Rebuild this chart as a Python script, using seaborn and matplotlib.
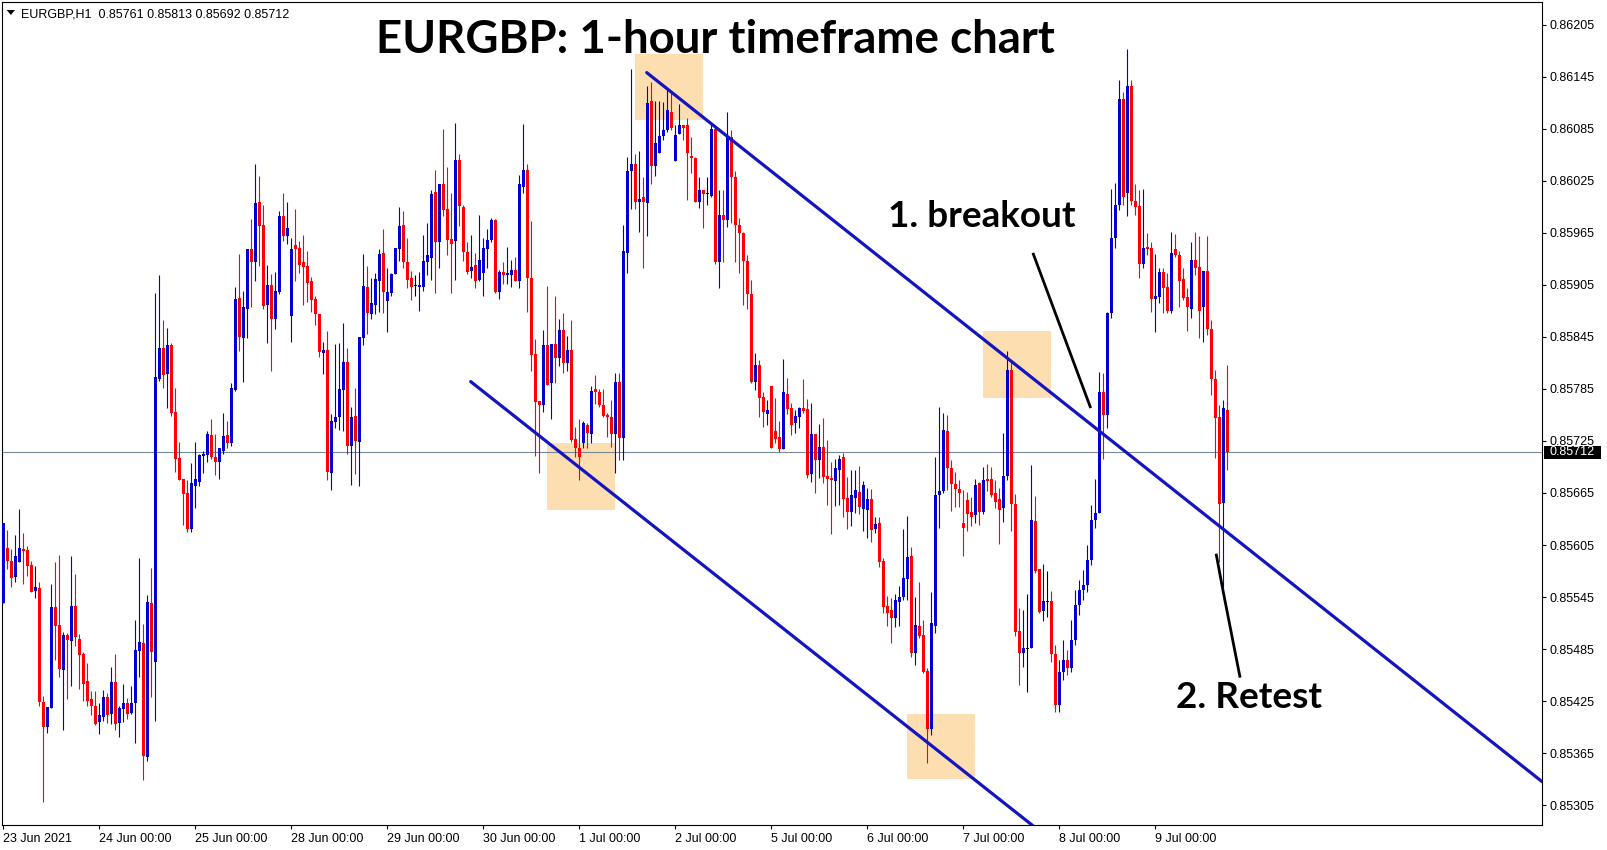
import numpy as np
import matplotlib
matplotlib.use("Agg")
import matplotlib.pyplot as plt
import matplotlib.transforms as mtransforms
from matplotlib.patches import Rectangle, Polygon
import seaborn as sns

# =============================================================================
# Data: EURGBP H1 candles, prices in points (1 point = 0.00001)
# =============================================================================

opens = [
    85538, 85602, 85587, 85568, 85585, 85600, 85599, 85582, 85552, 85555,
    85424, 85395, 85417, 85534, 85513, 85461, 85501, 85494, 85535, 85497,
    85479, 85448, 85427, 85419, 85401, 85407, 85430, 85410, 85447, 85400,
    85416, 85423, 85411, 85423, 85483, 85492, 85360, 85538, 85470, 85797,
    85832, 85802, 85836, 85759, 85705, 85681, 85665, 85623, 85673, 85678,
    85708, 85709, 85732, 85707, 85701, 85713, 85732, 85723, 85784, 85890,
    85844, 85877, 85946, 85932, 86001, 85974, 85882, 85905, 85866, 85897,
    85984, 85962, 85869, 85951, 85948, 85931, 85927, 85909, 85889, 85872,
    85827, 85830, 85688, 85747, 85753, 85784, 85816, 85719, 85754, 85724,
    85844, 85903, 85872, 85882, 85910, 85942, 85887, 85896, 85918, 85947,
    85974, 85931, 85913, 85904, 85903, 85903, 85931, 85936, 86012, 85955,
    86022, 85993, 85958, 85956, 86049, 85995, 85943, 85921, 85928, 85911,
    85919, 85947, 85957, 85980, 85897, 85920, 85917, 85917, 85922, 85910,
    86018, 86038, 85913, 85825, 85771, 85767, 85836, 85792, 85837, 85821,
    85853, 85815, 85830, 85727, 85717, 85723, 85744, 85733, 85785, 85781,
    85766, 85755, 85753, 85733, 85793, 85728, 85942, 86036, 86044, 86001,
    86007, 86000, 86117, 86042, 86057, 86077, 86084, 86105, 86048, 86079,
    86089, 86089, 86054, 86051, 86001, 86015, 86011, 86008, 86085, 85932,
    85986, 85980, 86076, 86029, 85974, 85965, 85933, 85894, 85793, 85813,
    85776, 85756, 85789, 85736, 85730, 85716, 85779, 85763, 85746, 85753,
    85763, 85762, 85687, 85733, 85703, 85718, 85685, 85682, 85679, 85691,
    85707, 85659, 85643, 85659, 85666, 85647, 85645, 85658, 85623, 85630,
    85587, 85535, 85530, 85521, 85539, 85545, 85566, 85592, 85480, 85512,
    85501, 85460, 85393, 85512, 85663, 85667, 85736, 85694, 85675, 85670,
    85630, 85657, 85643, 85640, 85677, 85643, 85681, 85681, 85665, 85658,
    85648, 85685, 85807, 85652, 85506, 85480, 85486, 85486, 85633, 85577,
    85529, 85540, 85540, 85479, 85420, 85459, 85472, 85463, 85495, 85536,
    85553, 85559, 85588, 85634, 85642, 85781, 85755, 85873, 85959, 85997,
    86119, 86011, 86134, 86002, 85996, 85929, 85949, 85948, 85889, 85891,
    85920, 85903, 85875, 85946, 85939, 85912, 85891, 85877, 85934, 85926,
    85880, 85921, 85854, 85796, 85753, 85654, 85761,
]

highs = [
    85630, 85622, 85600, 85617, 85647, 85619, 85604, 85587, 85581, 85562,
    85431, 85418, 85560, 85585, 85594, 85505, 85503, 85592, 85572, 85502,
    85482, 85469, 85437, 85437, 85423, 85438, 85434, 85464, 85479, 85419,
    85445, 85428, 85442, 85518, 85590, 85514, 85547, 85578, 85896, 85917,
    85865, 85855, 85838, 85786, 85724, 85681, 85680, 85700, 85724, 85710,
    85713, 85737, 85750, 85733, 85717, 85757, 85748, 85792, 85903, 85941,
    85898, 85947, 85981, 86044, 86031, 85997, 85928, 85918, 85920, 85990,
    86011, 86001, 85959, 85993, 85956, 85963, 85944, 85914, 85892, 85872,
    85839, 85852, 85756, 85837, 85838, 85861, 85832, 85764, 85786, 85845,
    85941, 85927, 85913, 85919, 85946, 85969, 85925, 85919, 85948, 85995,
    85990, 85959, 85921, 85917, 85920, 85963, 85977, 86014, 86038, 86022,
    86085, 86041, 86011, 86092, 86056, 85997, 85955, 85963, 85942, 85986,
    85959, 85970, 85982, 85981, 85922, 85931, 85949, 85934, 85937, 86032,
    86091, 86044, 85979, 85843, 85771, 85853, 85904, 85837, 85892, 85866,
    85873, 85846, 85865, 85741, 85750, 85748, 85746, 85789, 85801, 85785,
    85785, 85757, 85772, 85804, 85804, 85974, 86053, 86154, 86056, 86059,
    86029, 86134, 86139, 86117, 86117, 86116, 86130, 86127, 86089, 86114,
    86090, 86098, 86076, 86053, 86030, 86015, 86030, 86091, 86087, 86015,
    86015, 86104, 86084, 86036, 85982, 85966, 85940, 85911, 85827, 85819,
    85781, 85772, 85789, 85775, 85748, 85820, 85798, 85769, 85761, 85764,
    85797, 85774, 85769, 85733, 85745, 85752, 85726, 85701, 85704, 85709,
    85711, 85684, 85692, 85692, 85696, 85679, 85671, 85670, 85637, 85637,
    85590, 85546, 85544, 85548, 85558, 85624, 85638, 85603, 85545, 85562,
    85518, 85463, 85551, 85707, 85764, 85757, 85755, 85703, 85689, 85680,
    85669, 85666, 85660, 85681, 85678, 85695, 85698, 85695, 85680, 85671,
    85734, 85829, 85819, 85664, 85532, 85530, 85548, 85697, 85662, 85577,
    85583, 85575, 85552, 85490, 85472, 85495, 85484, 85518, 85553, 85565,
    85576, 85605, 85651, 85681, 85805, 85804, 85874, 86016, 86023, 86141,
    86128, 86177, 86142, 86022, 86015, 86016, 85965, 85954, 85941, 85924,
    85925, 85919, 85966, 85964, 85944, 85924, 85902, 85954, 85966, 85962,
    85921, 85961, 85865, 85807, 85767, 85772, 85813,
]

lows = [
    85538, 85577, 85557, 85562, 85585, 85560, 85569, 85551, 85544, 85419,
    85308, 85388, 85417, 85472, 85453, 85392, 85427, 85442, 85489, 85439,
    85425, 85419, 85409, 85397, 85387, 85402, 85400, 85398, 85392, 85384,
    85401, 85404, 85410, 85377, 85453, 85334, 85356, 85430, 85402, 85794,
    85786, 85763, 85754, 85689, 85680, 85628, 85620, 85620, 85648, 85673,
    85688, 85701, 85704, 85686, 85681, 85710, 85717, 85719, 85783, 85829,
    85793, 85844, 85880, 85910, 85927, 85877, 85838, 85806, 85854, 85894,
    85956, 85952, 85839, 85910, 85919, 85882, 85885, 85874, 85859, 85822,
    85802, 85680, 85669, 85740, 85738, 85737, 85710, 85674, 85687, 85673,
    85836, 85849, 85866, 85872, 85874, 85873, 85851, 85892, 85918, 85933,
    85925, 85901, 85888, 85892, 85875, 85898, 85916, 85911, 85896, 85925,
    85985, 85939, 85896, 85911, 85973, 85933, 85918, 85913, 85901, 85910,
    85892, 85924, 85954, 85896, 85889, 85906, 85906, 85903, 85909, 85902,
    86011, 85874, 85806, 85708, 85688, 85759, 85790, 85750, 85792, 85811,
    85804, 85806, 85724, 85707, 85680, 85717, 85717, 85723, 85768, 85764,
    85753, 85730, 85718, 85688, 85703, 85703, 85919, 85993, 85993, 85966,
    85925, 85962, 86022, 86031, 86057, 86072, 86081, 86084, 86048, 86079,
    86072, 86003, 86034, 86001, 85994, 85971, 85997, 86007, 85929, 85902,
    85931, 85972, 85977, 85931, 85919, 85882, 85877, 85792, 85784, 85753,
    85741, 85744, 85717, 85723, 85712, 85716, 85756, 85732, 85734, 85740,
    85757, 85682, 85678, 85665, 85682, 85677, 85651, 85618, 85650, 85651,
    85637, 85623, 85627, 85642, 85641, 85621, 85613, 85609, 85619, 85580,
    85527, 85512, 85492, 85510, 85512, 85542, 85542, 85476, 85467, 85498,
    85457, 85354, 85386, 85503, 85625, 85665, 85669, 85644, 85649, 85649,
    85592, 85621, 85627, 85630, 85628, 85641, 85667, 85660, 85648, 85606,
    85632, 85680, 85621, 85500, 85444, 85464, 85435, 85486, 85573, 85527,
    85517, 85522, 85470, 85412, 85412, 85449, 85455, 85459, 85490, 85524,
    85542, 85551, 85582, 85625, 85642, 85704, 85740, 85867, 85948, 85992,
    85997, 85985, 85997, 85986, 85913, 85925, 85940, 85874, 85851, 85884,
    85873, 85873, 85873, 85937, 85880, 85888, 85852, 85867, 85917, 85844,
    85839, 85847, 85778, 85705, 85585, 85557, 85692,
]

closes = [
    85630, 85587, 85567, 85592, 85602, 85598, 85581, 85551, 85557, 85424,
    85395, 85418, 85534, 85512, 85462, 85501, 85495, 85535, 85499, 85478,
    85445, 85425, 85419, 85398, 85409, 85430, 85409, 85447, 85398, 85417,
    85423, 85410, 85423, 85484, 85493, 85362, 85539, 85482, 85799, 85832,
    85801, 85836, 85757, 85704, 85680, 85664, 85623, 85677, 85681, 85709,
    85710, 85733, 85707, 85701, 85717, 85731, 85723, 85786, 85889, 85845,
    85879, 85946, 85932, 86000, 85973, 85881, 85905, 85866, 85898, 85984,
    85962, 85971, 85947, 85947, 85928, 85926, 85907, 85888, 85872, 85828,
    85830, 85689, 85748, 85753, 85785, 85816, 85719, 85753, 85725, 85845,
    85904, 85873, 85884, 85912, 85941, 85897, 85897, 85918, 85948, 85973,
    85931, 85911, 85903, 85904, 85905, 85933, 85939, 86010, 85955, 86021,
    85992, 85957, 85952, 86049, 85996, 85943, 85920, 85926, 85910, 85934,
    85948, 85957, 85980, 85897, 85920, 85917, 85919, 85922, 85909, 86021,
    86038, 85913, 85824, 85770, 85767, 85836, 85790, 85837, 85821, 85853,
    85815, 85830, 85726, 85717, 85707, 85746, 85734, 85783, 85781, 85766,
    85754, 85753, 85733, 85793, 85728, 85944, 86036, 86045, 86001, 86004,
    86001, 86115, 86042, 86069, 86077, 86084, 86107, 86086, 86078, 86089,
    86086, 86057, 86051, 86001, 86015, 86010, 86011, 86085, 85932, 85986,
    85980, 86076, 86029, 85974, 85965, 85933, 85894, 85793, 85813, 85775,
    85759, 85761, 85717, 85727, 85716, 85781, 85762, 85744, 85754, 85763,
    85760, 85686, 85733, 85703, 85718, 85684, 85681, 85680, 85694, 85704,
    85658, 85643, 85663, 85669, 85649, 85674, 85658, 85622, 85629, 85585,
    85534, 85527, 85521, 85542, 85545, 85567, 85591, 85480, 85513, 85500,
    85459, 85393, 85515, 85663, 85667, 85738, 85694, 85675, 85670, 85665,
    85625, 85641, 85637, 85674, 85643, 85680, 85679, 85663, 85655, 85645,
    85685, 85807, 85652, 85505, 85480, 85486, 85486, 85634, 85575, 85528,
    85540, 85540, 85479, 85420, 85459, 85472, 85463, 85495, 85536, 85553,
    85559, 85588, 85634, 85642, 85782, 85755, 85873, 85959, 85997, 86119,
    86007, 86134, 86002, 85995, 85929, 85948, 85947, 85889, 85892, 85920,
    85902, 85875, 85942, 85939, 85910, 85890, 85880, 85934, 85925, 85875,
    85921, 85854, 85796, 85752, 85652, 85763, 85712,
]

# time axis: one label per trading day (24 bars)
day_ticks = [0, 24, 48, 72, 96, 120, 144, 168, 192, 216, 240, 264, 288]
day_labels = ['23 Jun 2021', '24 Jun 00:00', '25 Jun 00:00', '28 Jun 00:00',
              '29 Jun 00:00', '30 Jun 00:00', '1 Jul 00:00', '2 Jul 00:00',
              '5 Jul 00:00', '6 Jul 00:00', '7 Jul 00:00', '8 Jul 00:00',
              '9 Jul 00:00']

price_ticks = [0.86205, 0.86145, 0.86085, 0.86025, 0.85965, 0.85905, 0.85845,
               0.85785, 0.85725, 0.85665, 0.85605, 0.85545, 0.85485, 0.85425,
               0.85365, 0.85305]
last_price = 0.85712

# drawn trend channel (bar index, price)
upper_x = [160.85, 384.7]
upper_p = [0.86150, 0.85332]
lower_x = [116.85, 260.0]
lower_p = [0.857935, 0.852717]

# highlight boxes: (bar from, bar to, price low, price high)
boxes = [
    (135.85, 152.9, 0.856455, 0.857224),
    (157.9, 174.85, 0.860955, 0.861717),
    (225.85, 242.9, 0.853354, 0.854100),
    (244.9, 261.9, 0.857747, 0.858520),
]

# pointer lines to the notes
breakout_x = [257.4, 271.85]
breakout_p = [0.85942, 0.85763]
retest_x = [303.2, 304.9, 309.2]
retest_p = [0.85595, 0.85553, 0.85452]

# =============================================================================
# Plot
# =============================================================================

BLUE = '#0000d0'
RED = '#ff0000'
LINE = '#1414c0'
BOX = '#fddeb0'

sns.set_theme(style="white")
plt.rcParams['font.family'] = ['Liberation Sans', 'DejaVu Sans']
plt.rcParams['text.color'] = 'black'

W, H = 1607, 850
fig = plt.figure(figsize=(W / 100, H / 100), dpi=100)
fig.patch.set_facecolor('white')
ax = fig.add_axes([2.3 / W, 25 / H, 1539.7 / W, 823.5 / H])
ax.set_facecolor('white')

o = np.array(opens) / 1e5
h = np.array(highs) / 1e5
l = np.array(lows) / 1e5
c = np.array(closes) / 1e5
idx = np.arange(len(o))

col = np.where(c > o, BLUE, np.where(c < o, RED, 'black'))
body = np.abs(c - o)
px = 1.154e-5  # one pixel in price

for x0, x1, p0, p1 in boxes:
    ax.add_patch(Rectangle((x0, p0), x1 - x0, p1 - p0, fc=BOX, ec='none', zorder=0.5))

ax.axhline(last_price, color='#778899', lw=0.8, zorder=1)

ax.vlines(idx, l, h, colors=col, lw=0.8, zorder=2)
ax.bar(idx, np.maximum(body, px), bottom=np.minimum(o, c) - np.where(body == 0, px / 2, 0),
       width=0.75, color=col, lw=0, zorder=3)

sns.lineplot(x=upper_x, y=upper_p, ax=ax, color=LINE, lw=2.3, zorder=4,
             estimator=None, sort=False)
sns.lineplot(x=lower_x, y=lower_p, ax=ax, color=LINE, lw=2.3, zorder=4,
             estimator=None, sort=False)

ax.plot(breakout_x, breakout_p, color='black', lw=2.0, zorder=5, solid_capstyle='butt')
ax.plot(retest_x, retest_p, color='black', lw=2.0, zorder=5, solid_capstyle='butt')

ax.text(244.55, 0.85972, '1. breakout', family='Lato', fontweight='bold',
        fontsize=26.6, color='black', ha='center', va='baseline', zorder=6)
ax.text(311.55, 0.85417, '2. Retest', family='Lato', fontweight='bold',
        fontsize=26.6, color='black', ha='center', va='baseline', zorder=6)

ax.set_xlim(-0.25, 384.675)
ax.set_ylim(0.85282, 0.86232)
ax.grid(False)
for s in ax.spines.values():
    s.set_color('black')
    s.set_linewidth(0.8)

ax.set_xticks(day_ticks)
ax.set_xticklabels(day_labels, ha='left')
ax.yaxis.tick_right()
ax.set_yticks(price_ticks)
ax.set_yticklabels([f'{p:.5f}' for p in price_ticks])
ax.tick_params(axis='x', bottom=True, direction='out', length=3, width=0.8,
               color='black', labelsize=9, labelcolor='black', pad=2.6)
ax.tick_params(axis='y', right=True, left=False, labelright=True, labelleft=False,
               direction='out', length=3, width=0.8, color='black',
               labelsize=9, labelcolor='black', pad=2.5)

# current price tag on the price scale
trans = mtransforms.blended_transform_factory(ax.transAxes, ax.transData)
x0 = (1544 - 2.3) / 1539.7
x1 = (1601 - 2.3) / 1539.7
ax.add_patch(Rectangle((x0, last_price - 6.4 * px), x1 - x0, 12.8 * px, transform=trans,
                       fc='black', ec='none', clip_on=False, zorder=7))
ax.text((1550 - 2.3) / 1539.7, last_price, f'{last_price:.5f}', transform=trans,
        color='white', fontsize=9, va='center', ha='left', zorder=8, clip_on=False)

# header texts
fig.text(715.5 / W, 1 - 53 / H, 'EURGBP: 1-hour timeframe chart', family='Lato',
         fontweight='bold', fontsize=32.9, color='black', ha='center', va='baseline')
fig.text(21 / W, 1 - 17.3 / H, 'EURGBP,H1  0.85761 0.85813 0.85692 0.85712',
         fontsize=9, color='black', ha='left', va='baseline')
tri = [(6.7, 10), (15, 10), (10.85, 15)]
fig.patches.append(Polygon([(x / W, 1 - y / H) for x, y in tri], closed=True,
                           transform=fig.transFigure, fc='black', ec='none'))

fig.savefig('out.png', dpi=100)
